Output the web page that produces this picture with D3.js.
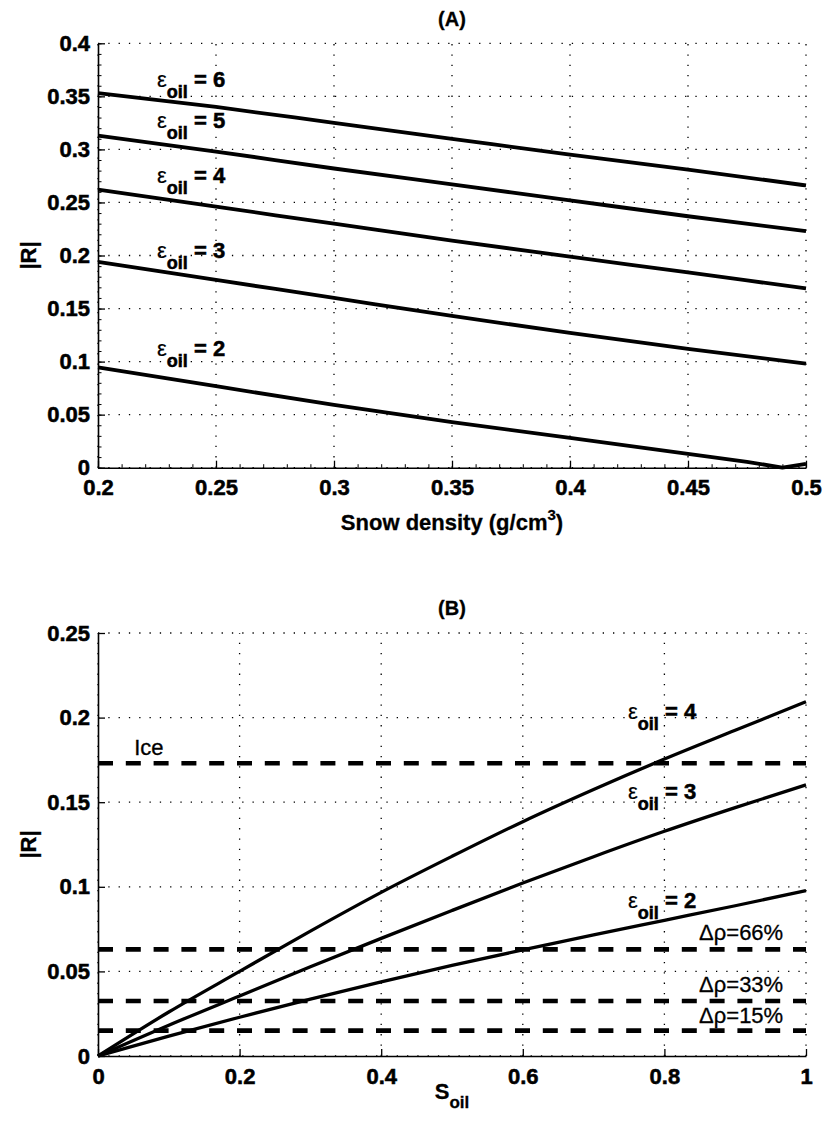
<!DOCTYPE html>
<html>
<head>
<meta charset="utf-8">
<script src="https://cdn.jsdelivr.net/npm/d3@7"></script>
<style>
  html, body { margin: 0; padding: 0; background: #fff; }
  svg { display: block; font-family: "Liberation Sans", Arial, Helvetica, sans-serif; }
  text { white-space: pre; }
  .heavy { stroke: #000; stroke-width: 0.55px; }
  .medium { stroke: #000; stroke-width: 0.3px; }
</style>
</head>
<body>
<svg id="fig" width="823" height="1126"></svg>
<script>
// ---------- Panel A: |R| versus snow density ----------
const densityTicks = [0.2, 0.25, 0.3, 0.35, 0.4, 0.45, 0.5];
const rTicksA = [0, 0.05, 0.1, 0.15, 0.2, 0.25, 0.3, 0.35, 0.4];

const density = [0.2, 0.25, 0.3, 0.35, 0.4, 0.45, 0.5];
const rEps6 = [0.353, 0.340, 0.325, 0.310, 0.295, 0.281, 0.266];
const rEps5 = [0.313, 0.298, 0.282, 0.267, 0.252, 0.237, 0.223];
const rEps4 = [0.262, 0.246, 0.230, 0.214, 0.199, 0.184, 0.169];
const rEps3 = [0.194, 0.177, 0.160, 0.143, 0.127, 0.112, 0.098];
const densityEps2 = [0.2, 0.25, 0.3, 0.35, 0.4, 0.45, 0.475, 0.49, 0.5];
const rEps2 = [0.0946, 0.0768, 0.0591, 0.0430, 0.0280, 0.0131, 0.0056, 0.0, 0.0037];

const epsA = ["6", "5", "4", "3", "2"];
const epsALabelX = [0.225, 0.225, 0.225, 0.225, 0.225];
const epsALabelY = [0.3585, 0.320, 0.268, 0.1977, 0.1053];

// ---------- Panel B: |R| versus oil saturation ----------
const sTicks = [0, 0.2, 0.4, 0.6, 0.8, 1];
const rTicksB = [0, 0.05, 0.1, 0.15, 0.2, 0.25];

const sOil = [0, 0.1, 0.2, 0.3, 0.4, 0.5, 0.6, 0.7, 0.8, 0.9, 1];
const rB4 = [0, 0.026, 0.050, 0.0738, 0.0967, 0.1180, 0.1385, 0.1575, 0.1755, 0.1925, 0.2094];
const rB3 = [0, 0.0182, 0.0355, 0.0527, 0.0695, 0.0860, 0.1022, 0.1178, 0.1328, 0.1468, 0.1602];
const rB2 = [0, 0.0117, 0.0229, 0.0336, 0.0438, 0.0535, 0.0627, 0.0716, 0.0802, 0.0888, 0.0977];

const epsB = ["4", "3", "2"];
const epsBLabelX = [0.7486, 0.7486, 0.7486];
const epsBLabelY = [0.199, 0.1517, 0.0873];

// Reference levels (dashed)
const refNames = ["Ice", "Δρ=66%", "Δρ=33%", "Δρ=15%"];
const refValues = [0.173, 0.063, 0.0325, 0.015];
const refLabelX = [0.0512, 0.849, 0.849, 0.849];
const refLabelY = [0.178, 0.0686, 0.038, 0.0197];

// ---------- drawing ----------
const svg = d3.select("#fig");
svg.append("rect").attr("width", 823).attr("height", 1126).attr("fill", "#fff");

const fmt = d => String(+d.toFixed(2));

function panel(cfg) {
  const g = svg.append("g");
  const x = d3.scaleLinear().domain(cfg.xDomain).range([98, 806]);
  const y = d3.scaleLinear().domain(cfg.yDomain).range(cfg.yRange);
  const [y0, y1] = cfg.yRange;

  // dotted grid
  const grid = g.append("g").attr("stroke", "#000").attr("stroke-width", 1.3)
    .attr("stroke-dasharray", "1.3,9").attr("fill", "none");
  cfg.xTicks.forEach(t => grid.append("line")
    .attr("x1", x(t)).attr("x2", x(t)).attr("y1", y0).attr("y2", y1));
  cfg.yTicks.forEach(t => grid.append("line")
    .attr("x1", 98).attr("x2", 806).attr("y1", y(t)).attr("y2", y(t)));

  // axes (ticks inward)
  const ax = g.append("g").attr("transform", `translate(0,${y0})`)
    .call(d3.axisBottom(x).tickValues(cfg.xTicks).tickFormat(fmt)
      .tickSizeInner(-7).tickSizeOuter(0).tickPadding(12));
  const ay = g.append("g").attr("transform", "translate(98,0)")
    .call(d3.axisLeft(y).tickValues(cfg.yTicks).tickFormat(fmt)
      .tickSizeInner(-7).tickSizeOuter(0).tickPadding(8));
  [ax, ay].forEach(a => {
    a.selectAll("text").attr("font-size", 22).attr("font-weight", "bold")
      .attr("fill", "#000").attr("class", "heavy")
      .attr("font-family", "Liberation Sans, Arial, sans-serif");
    a.select(".domain").attr("stroke", "#000").attr("stroke-width", 1.6);
    a.selectAll(".tick line").attr("stroke", "#000").attr("stroke-width", 1.3);
  });

  if (cfg.minorX) {
    g.append("g").attr("transform", `translate(0,${y0})`)
      .call(d3.axisBottom(x).tickValues(cfg.minorX).tickFormat("")
        .tickSizeInner(-3.5).tickSizeOuter(0))
      .call(s => s.select(".domain").remove())
      .selectAll(".tick line").attr("stroke", "#000").attr("stroke-width", 1);
    g.append("g").attr("transform", "translate(98,0)")
      .call(d3.axisLeft(y).tickValues(cfg.minorY).tickFormat("")
        .tickSizeInner(-3.5).tickSizeOuter(0))
      .call(s => s.select(".domain").remove())
      .selectAll(".tick line").attr("stroke", "#000").attr("stroke-width", 1);
  }
  return { g, x, y };
}

function epsLabel(g, px, py, val, size) {
  const t = g.append("text").attr("x", px).attr("y", py).attr("class", "heavy")
    .attr("font-size", size).attr("font-weight", "bold").attr("fill", "#000");
  t.append("tspan").attr("font-weight", "normal").style("stroke-width", "0.2px").text("ε");
  t.append("tspan").attr("dy", 11).attr("font-size", 18).text("oil");
  t.append("tspan").attr("dy", -11).text(" = " + val);
}

// ----- Panel A -----
const minorDensity = d3.range(0, 31).map(i => +(0.2 + i * 0.01).toFixed(2));
const minorRA = d3.range(0, 41).map(i => +(i * 0.01).toFixed(2));
const A = panel({
  xDomain: [0.2, 0.5], yDomain: [0, 0.4], yRange: [467.7, 43.3],
  xTicks: densityTicks, yTicks: rTicksA, minorX: minorDensity, minorY: minorRA
});
const lineA = d3.line().curve(d3.curveMonotoneX).x(d => A.x(d[0])).y(d => A.y(d[1]));
[rEps6, rEps5, rEps4, rEps3].forEach(s => {
  A.g.append("path").datum(density.map((d, i) => [d, s[i]]))
    .attr("d", lineA).attr("fill", "none").attr("stroke", "#000")
    .attr("stroke-width", 3.8).attr("stroke-linejoin", "round");
});
// the eps = 2 curve touches zero, so it keeps straight segments to hold the notch
const lineA2 = d3.line().x(d => A.x(d[0])).y(d => A.y(d[1]));
A.g.append("path").datum(densityEps2.map((d, i) => [d, rEps2[i]]))
  .attr("d", lineA2).attr("fill", "none").attr("stroke", "#000")
  .attr("stroke-width", 3.8).attr("stroke-linejoin", "round");
epsA.forEach((v, i) => epsLabel(A.g, A.x(epsALabelX[i]), A.y(epsALabelY[i]), v, 22));

A.g.append("text").attr("x", 452).attr("y", 26).attr("text-anchor", "middle").attr("class", "medium")
  .attr("font-size", 20).attr("font-weight", "bold").text("(A)");
const xlA = A.g.append("text").attr("x", 452).attr("y", 530).attr("text-anchor", "middle")
  .attr("class", "medium").attr("font-size", 22).attr("font-weight", "bold");
xlA.append("tspan").text("Snow density (g/cm");
xlA.append("tspan").attr("dy", -10).attr("font-size", 15).text("3");
xlA.append("tspan").attr("dy", 10).text(")");
A.g.append("text").attr("transform", "translate(36,255.5) rotate(-90)").attr("class", "medium")
  .attr("text-anchor", "middle").attr("font-size", 22).attr("font-weight", "bold").text("|R|");

// ----- Panel B -----
const B = panel({
  xDomain: [0, 1], yDomain: [0, 0.25], yRange: [1056, 633],
  xTicks: sTicks, yTicks: rTicksB
});
refValues.forEach(v => {
  B.g.append("line").attr("x1", 98).attr("x2", 806).attr("y1", B.y(v)).attr("y2", B.y(v))
    .attr("stroke", "#000").attr("stroke-width", 4.6).attr("stroke-dasharray", "15,12.8");
});
const lineB = d3.line().curve(d3.curveMonotoneX).x(d => B.x(d[0])).y(d => B.y(d[1]));
[rB4, rB3, rB2].forEach(s => {
  B.g.append("path").datum(sOil.map((d, i) => [d, s[i]]))
    .attr("d", lineB).attr("fill", "none").attr("stroke", "#000")
    .attr("stroke-width", 3.3).attr("stroke-linejoin", "round");
});
epsB.forEach((v, i) => epsLabel(B.g, B.x(epsBLabelX[i]), B.y(epsBLabelY[i]), v, 22));
refNames.forEach((n, i) => {
  B.g.append("text").attr("x", B.x(refLabelX[i])).attr("y", B.y(refLabelY[i]))
    .attr("class", "medium").attr("font-size", 22).attr("fill", "#000").text(n);
});

B.g.append("text").attr("x", 452).attr("y", 615).attr("text-anchor", "middle").attr("class", "medium")
  .attr("font-size", 20).attr("font-weight", "bold").text("(B)");
const xlB = B.g.append("text").attr("x", 452).attr("y", 1099).attr("text-anchor", "middle")
  .attr("class", "medium").attr("font-size", 22).attr("font-weight", "bold");
xlB.append("tspan").text("S");
xlB.append("tspan").attr("dy", 9).attr("font-size", 17).text("oil");
B.g.append("text").attr("transform", "translate(36,844.5) rotate(-90)").attr("class", "medium")
  .attr("text-anchor", "middle").attr("font-size", 22).attr("font-weight", "bold").text("|R|");
</script>
</body>
</html>
